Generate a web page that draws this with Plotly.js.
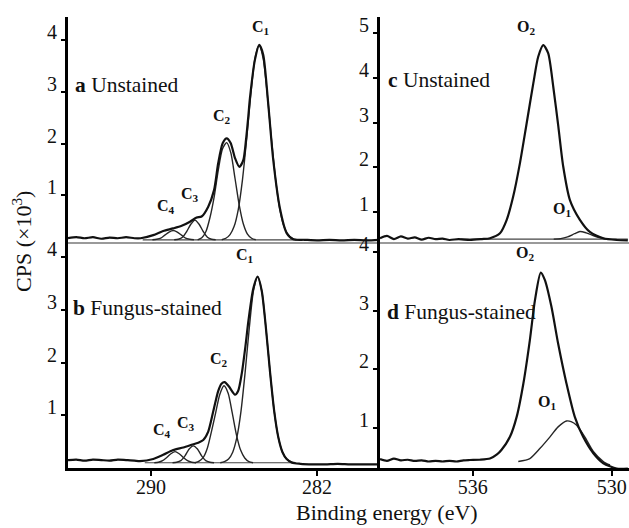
<!DOCTYPE html>
<html>
<head>
<meta charset="utf-8">
<script src="https://cdn.plot.ly/plotly-3.0.1.min.js"></script>
<style>html,body{margin:0;padding:0;background:#fff;}#chart{width:629px;height:528px;}</style>
</head>
<body>
<div id="chart"></div>
<script>
// ---------- Panel a: C1s, unstained ----------
const aEnvE = [294.0,293.6,293.2,292.8,292.4,292.0,291.6,291.2,290.8,290.5,289.89,289.41,288.93,288.52,288.12,287.80,287.56,287.24,286.96,286.76,286.54,286.35,286.16,285.95,285.74,285.55,285.42,285.31,285.23,284.99,284.78,284.59,284.35,284.11,283.78,283.46,283.14,282.6,282.0,281.4,280.8,280.2,279.6,279.0];
const aEnvV = [0.17,0.19,0.17,0.19,0.16,0.18,0.17,0.19,0.17,0.17,0.23,0.31,0.36,0.41,0.49,0.57,0.59,0.78,1.10,1.62,2.01,2.10,2.01,1.72,1.55,1.68,2.07,2.52,2.88,3.62,3.91,3.72,2.78,1.70,0.74,0.27,0.15,0.14,0.13,0.14,0.13,0.14,0.13,0.14];
const aC1E = [286.59,286.39,286.19,285.99,285.79,285.59,285.39,285.19,284.99,284.79,284.59,284.39,284.19,283.99,283.79,283.59,283.39,283.19,282.99];
const aC1V = [0.14,0.17,0.24,0.40,0.73,1.30,2.08,2.94,3.64,3.91,3.64,2.94,2.08,1.30,0.73,0.40,0.24,0.17,0.14];
const aC2E = [287.75,287.55,287.35,287.15,286.95,286.75,286.55,286.35,286.15,285.95,285.75,285.55,285.35,285.15,284.95];
const aC2V = [0.14,0.18,0.30,0.58,0.98,1.50,1.90,2.02,1.82,1.33,0.82,0.45,0.25,0.17,0.14];
const aC3E = [288.88,288.68,288.48,288.28,288.08,287.88,287.68,287.48,287.28,287.08,286.88];
const aC3V = [0.14,0.15,0.19,0.30,0.44,0.52,0.44,0.30,0.19,0.15,0.14];
const aC4E = [289.93,289.73,289.53,289.33,289.13,288.93,288.73,288.53,288.33,288.13,287.93];
const aC4V = [0.14,0.15,0.17,0.23,0.29,0.32,0.29,0.23,0.17,0.15,0.14];
const aBaseE = [290.4,282.5];
const aBaseV = [0.14,0.14];

// ---------- Panel b: C1s, fungus-stained ----------
const bEnvE = [294.0,293.6,293.2,292.8,292.4,292.0,291.6,291.2,290.8,290.53,289.89,289.41,288.93,288.44,288.04,287.72,287.48,287.24,287.00,286.76,286.6,286.45,286.25,285.95,285.80,285.62,285.45,285.30,285.07,284.86,284.66,284.46,284.26,284.06,283.86,283.66,283.46,283.2,282.8,282.2,281.6,281.0,280.4,279.8,279.0];
const bEnvV = [0.15,0.16,0.14,0.16,0.15,0.14,0.16,0.15,0.14,0.13,0.17,0.25,0.34,0.39,0.44,0.48,0.53,0.69,1.07,1.46,1.60,1.63,1.55,1.39,1.46,1.80,2.30,2.80,3.40,3.63,3.36,2.66,1.82,1.08,0.58,0.30,0.17,0.10,0.08,0.07,0.07,0.08,0.07,0.07,0.07];
const bC1E = [286.66,286.46,286.26,286.06,285.86,285.66,285.46,285.26,285.06,284.86,284.66,284.46,284.26,284.06,283.86,283.66,283.46,283.26,283.06];
const bC1V = [0.10,0.12,0.17,0.30,0.58,1.08,1.82,2.66,3.36,3.63,3.36,2.66,1.82,1.08,0.58,0.30,0.17,0.12,0.10];
const bC2E = [287.88,287.68,287.48,287.28,287.08,286.88,286.68,286.48,286.28,286.08,285.88,285.68,285.48,285.28,285.08];
const bC2V = [0.10,0.13,0.20,0.38,0.70,1.05,1.40,1.56,1.42,1.04,0.63,0.34,0.19,0.12,0.10];
const bC3E = [288.96,288.76,288.56,288.36,288.16,287.96,287.76,287.56,287.36,287.16,286.96];
const bC3V = [0.10,0.11,0.14,0.23,0.36,0.42,0.36,0.23,0.14,0.11,0.10];
const bC4E = [289.84,289.64,289.44,289.24,289.04,288.84,288.64,288.44,288.24,288.04,287.84];
const bC4V = [0.10,0.11,0.14,0.20,0.27,0.31,0.27,0.20,0.14,0.11,0.10];
const bBaseE = [290.3,283.0];
const bBaseV = [0.10,0.10];

// ---------- Panel c: O1s, unstained ----------
const cEnvE = [540.0,539.7,539.4,539.1,538.8,538.5,538.2,537.9,537.6,537.3,537.0,536.6,536.12,535.6,535.25,534.82,534.53,534.25,533.96,533.67,533.38,533.17,532.95,532.74,532.52,532.30,532.09,531.80,531.37,530.94,530.36,529.78,529.3];
const cEnvV = [0.42,0.47,0.40,0.46,0.41,0.44,0.39,0.43,0.40,0.41,0.38,0.40,0.38,0.40,0.42,0.53,0.83,1.35,2.09,2.98,3.88,4.47,4.73,4.55,3.80,2.91,2.02,1.27,0.83,0.56,0.42,0.38,0.37];
const cO1E = [532.5,532.2,531.9,531.6,531.37,531.1,530.8,530.5,530.2];
const cO1V = [0.40,0.41,0.45,0.52,0.57,0.54,0.48,0.43,0.40];
const cBaseE = [536.5,529.3];
const cBaseV = [0.40,0.40];

// ---------- Panel d: O1s, fungus-stained ----------
const dEnvE = [540.0,539.7,539.4,539.1,538.8,538.5,538.2,537.9,537.6,537.3,537.0,536.7,536.4,536.12,535.7,535.25,534.95,534.75,534.39,534.10,533.81,533.53,533.31,533.06,532.88,532.60,532.31,531.95,531.59,531.23,530.79,530.36,529.78,529.3];
const dEnvV = [0.47,0.44,0.48,0.45,0.46,0.44,0.45,0.43,0.44,0.43,0.44,0.43,0.45,0.455,0.46,0.48,0.55,0.63,0.85,1.19,1.76,2.50,3.18,3.65,3.52,3.07,2.44,1.76,1.19,0.85,0.57,0.40,0.31,0.31];
const dO1E = [534.03,533.53,533.10,532.66,532.31,531.95,531.75,531.52,531.16,530.79,530.36,530.07];
const dO1V = [0.43,0.48,0.65,0.85,1.02,1.12,1.11,1.05,0.85,0.60,0.43,0.37];

// ---------- Tick labels / texts ----------
const cTickVals = [290, 282];
const oTickVals = [536, 530];
const yTicksC = [1, 2, 3, 4];
const yTicksO = [1, 2, 3, 4, 5];
const panelTitles = ["<b>a</b> Unstained", "<b>b</b> Fungus-stained", "<b>c</b> Unstained", "<b>d</b> Fungus-stained"];
const yTitle = "CPS (×10<sup>3</sup>)";
const xTitle = "Binding energy (eV)";

const FONT = "Liberation Serif, Times New Roman, serif";
const ENV = {color: "#111", width: 2.2};
const COMP = {color: "#262626", width: 1.4};
const BASE = {color: "#444", width: 1.2};

function tr(x, y, xa, ya, line, shape) {
  return {x: x, y: y, xaxis: xa, yaxis: ya, type: "scatter", mode: "lines",
          line: Object.assign({shape: shape || "spline", smoothing: 0.7}, line), hoverinfo: "skip"};
}

const data = [
  tr(aBaseE, aBaseV, "x", "y", BASE, "linear"),
  tr(aC4E, aC4V, "x", "y", COMP), tr(aC3E, aC3V, "x", "y", COMP),
  tr(aC2E, aC2V, "x", "y", COMP), tr(aC1E, aC1V, "x", "y", COMP),
  tr(aEnvE, aEnvV, "x", "y", ENV),
  tr(cBaseE, cBaseV, "x2", "y2", BASE, "linear"),
  tr(cO1E, cO1V, "x2", "y2", COMP),
  tr(cEnvE, cEnvV, "x2", "y2", ENV),
  tr(bBaseE, bBaseV, "x3", "y3", BASE, "linear"),
  tr(bC4E, bC4V, "x3", "y3", COMP), tr(bC3E, bC3V, "x3", "y3", COMP),
  tr(bC2E, bC2V, "x3", "y3", COMP), tr(bC1E, bC1V, "x3", "y3", COMP),
  tr(bEnvE, bEnvV, "x3", "y3", ENV),
  tr(dO1E, dO1V, "x4", "y4", COMP),
  tr(dEnvE, dEnvV, "x4", "y4", ENV)
];

const W = 629, H = 528;
const xL = [68 / W, 380 / W], xR = [380 / W, 1];
const yT = [(H - 242) / H, (H - 17) / H], yB = [(H - 468) / H, (H - 242) / H];

const tickFont = {family: FONT, size: 20, color: "#111"};
function yax(domain, range, anchor, vals) {
  return {domain: domain, range: range, anchor: anchor, showline: true, linecolor: "#000", linewidth: 3,
          ticks: "outside", ticklen: 4, tickwidth: 2, tickcolor: "#000", tickvals: vals,
          ticktext: vals.map(String), tickfont: tickFont, ticklabelshift: -8, ticklabelstandoff: 0,
          showgrid: false, zeroline: false, fixedrange: true};
}
function xTop(domain, range, anchor) {
  return {domain: domain, range: range, anchor: anchor, showline: true, linecolor: "#9a9a9a", linewidth: 1.5,
          ticks: "", showticklabels: false, showgrid: false, zeroline: false, fixedrange: true};
}
function xBot(domain, range, anchor, vals) {
  return {domain: domain, range: range, anchor: anchor, showline: true, linecolor: "#000", linewidth: 3,
          ticks: "outside", ticklen: 5, tickwidth: 2, tickcolor: "#000", tickvals: vals,
          ticktext: vals.map(String), tickfont: tickFont, ticklabelstandoff: -6,
          showgrid: false, zeroline: false, fixedrange: true};
}

const peakFont = {family: FONT, size: 16, color: "#111"};
function pk(text, x, y, xr, yr) {
  return {text: "<b>" + text + "</b>", x: x, y: y, xref: xr, yref: yr, showarrow: false,
          font: peakFont, xanchor: "center", yanchor: "middle"};
}
const titleFont = {family: FONT, size: 21.5, color: "#111"};
function pt(text, px, py) {
  return {text: text, x: px / W, y: (H - py) / H, xref: "paper", yref: "paper", showarrow: false,
          font: titleFont, xanchor: "left", yanchor: "middle"};
}

const layout = {
  width: W, height: H, margin: {l: 0, r: 0, t: 0, b: 0},
  paper_bgcolor: "#fff", plot_bgcolor: "rgba(0,0,0,0)", showlegend: false,
  font: {family: FONT, color: "#111"},
  xaxis: xTop(xL, [294, 278.96], "y"),
  yaxis: yax(yT, [0.097, 4.449], "x", yTicksC),
  xaxis2: xTop(xR, [540, 529.25], "y2"),
  yaxis2: yax(yT, [0.335, 5.357], "x2", yTicksO),
  xaxis3: xBot(xL, [294, 278.96], "y3", cTickVals),
  yaxis3: yax(yB, [0, 4.288], "x3", yTicksC),
  xaxis4: xBot(xR, [540, 529.25], "y4", oTickVals),
  yaxis4: yax(yB, [0.319, 4.171], "x4", yTicksC),
  annotations: [
    pk("C<sub>1</sub>", 284.70, 4.24, "x", "y"),
    pk("C<sub>2</sub>", 286.58, 2.53, "x", "y"),
    pk("C<sub>3</sub>", 288.12, 1.01, "x", "y"),
    pk("C<sub>4</sub>", 289.28, 0.79, "x", "y"),
    pk("C<sub>1</sub>", 285.47, 4.04, "x3", "y3"),
    pk("C<sub>2</sub>", 286.72, 2.05, "x3", "y3"),
    pk("C<sub>3</sub>", 288.31, 0.85, "x3", "y3"),
    pk("C<sub>4</sub>", 289.47, 0.72, "x3", "y3"),
    pk("O<sub>2</sub>", 533.70, 5.13, "x2", "y2"),
    pk("O<sub>1</sub>", 532.14, 1.05, "x2", "y2"),
    pk("O<sub>2</sub>", 533.74, 3.98, "x4", "y4"),
    pk("O<sub>1</sub>", 532.79, 1.43, "x4", "y4"),
    pt(panelTitles[0], 73, 85),
    pt(panelTitles[1], 71, 308),
    pt(panelTitles[2], 386, 80),
    pt(panelTitles[3], 385, 312),
    {text: yTitle, x: 22 / W, y: (H - 242) / H, xref: "paper", yref: "paper", showarrow: false,
     textangle: -90, font: {family: FONT, size: 22, color: "#111"}, xanchor: "center", yanchor: "middle"},
    {text: xTitle, x: 387 / W, y: (H - 512) / H, xref: "paper", yref: "paper", showarrow: false,
     font: {family: FONT, size: 22, color: "#111"}, xanchor: "center", yanchor: "middle"}
  ]
};

Plotly.newPlot("chart", data, layout, {staticPlot: true, displayModeBar: false});
</script>
</body>
</html>
